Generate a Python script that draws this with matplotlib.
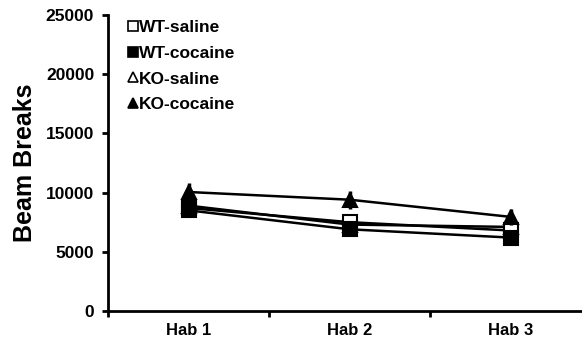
import matplotlib
matplotlib.use("Agg")
import matplotlib.pyplot as plt
from matplotlib.lines import Line2D

categories = ["Hab 1", "Hab 2", "Hab 3"]
series_names = ["WT-saline", "WT-cocaine", "KO-saline", "KO-cocaine"]
wt_saline = [8700, 7500, 6800]
wt_cocaine = [8500, 6900, 6200]
ko_saline = [8900, 7300, 7100]
ko_cocaine = [10050, 9400, 7950]
wt_saline_err = [500, 500, 450]
wt_cocaine_err = [550, 500, 500]
ko_saline_err = [500, 500, 450]
ko_cocaine_err = [800, 750, 700]
yticks = [0, 5000, 10000, 15000, 20000, 25000]

plt.rcParams['font.family'] = ['Liberation Sans', 'DejaVu Sans']

fig = plt.figure(figsize=(5.82, 3.45), dpi=100)
ax = fig.add_axes([0.1856, 0.0986, 0.8144, 0.8579])

x = list(range(len(categories)))
styles = [
    (wt_saline, wt_saline_err, 's', 'white', 4),
    (wt_cocaine, wt_cocaine_err, 's', 'black', 5),
    (ko_saline, ko_saline_err, '^', 'white', 3),
    (ko_cocaine, ko_cocaine_err, '^', 'black', 6),
]
handles = []
for (vals, errs, m, fc, z), name in zip(styles, series_names):
    ax.errorbar(x, vals, yerr=errs, color='black', lw=1.8, marker=m,
                markersize=10, markerfacecolor=fc, markeredgecolor='black',
                markeredgewidth=1.5, elinewidth=2.5, capsize=0, zorder=z)
    handles.append(Line2D([], [], color='black', marker=m, linestyle='none',
                          markersize=7, markerfacecolor=fc,
                          markeredgecolor='black', markeredgewidth=1.2,
                          label=name))

ax.set_xlim(-0.5, 2.444)
ax.set_ylim(0, 25000)
ax.set_yticks(yticks)
ax.set_yticklabels([str(v) for v in yticks], fontsize=12.5, fontweight='bold')
ax.set_xticks([-0.5, 0.5, 1.5])
ax.set_xticklabels([])
ax.set_xticks(x, minor=True)
ax.set_xticklabels(categories, minor=True, fontsize=12, fontweight='bold')
ax.tick_params(axis='x', which='minor', length=0, pad=9)
ax.tick_params(axis='x', which='major', length=4, width=2, direction='out')
ax.tick_params(axis='y', length=4, width=2, direction='out', pad=6)
for s in ['top', 'right']:
    ax.spines[s].set_visible(False)
for s in ['left', 'bottom']:
    ax.spines[s].set_linewidth(2)
ax.set_ylabel("Beam Breaks", fontsize=18, fontweight='bold', labelpad=6)

leg = ax.legend(handles=handles, loc='upper left', bbox_to_anchor=(0.01, 1.035),
                frameon=False, handlelength=0.5, handletextpad=0.1,
                labelspacing=0.6, prop={'size': 12.5, 'weight': 'bold'})

fig.savefig("out.png", dpi=100)
